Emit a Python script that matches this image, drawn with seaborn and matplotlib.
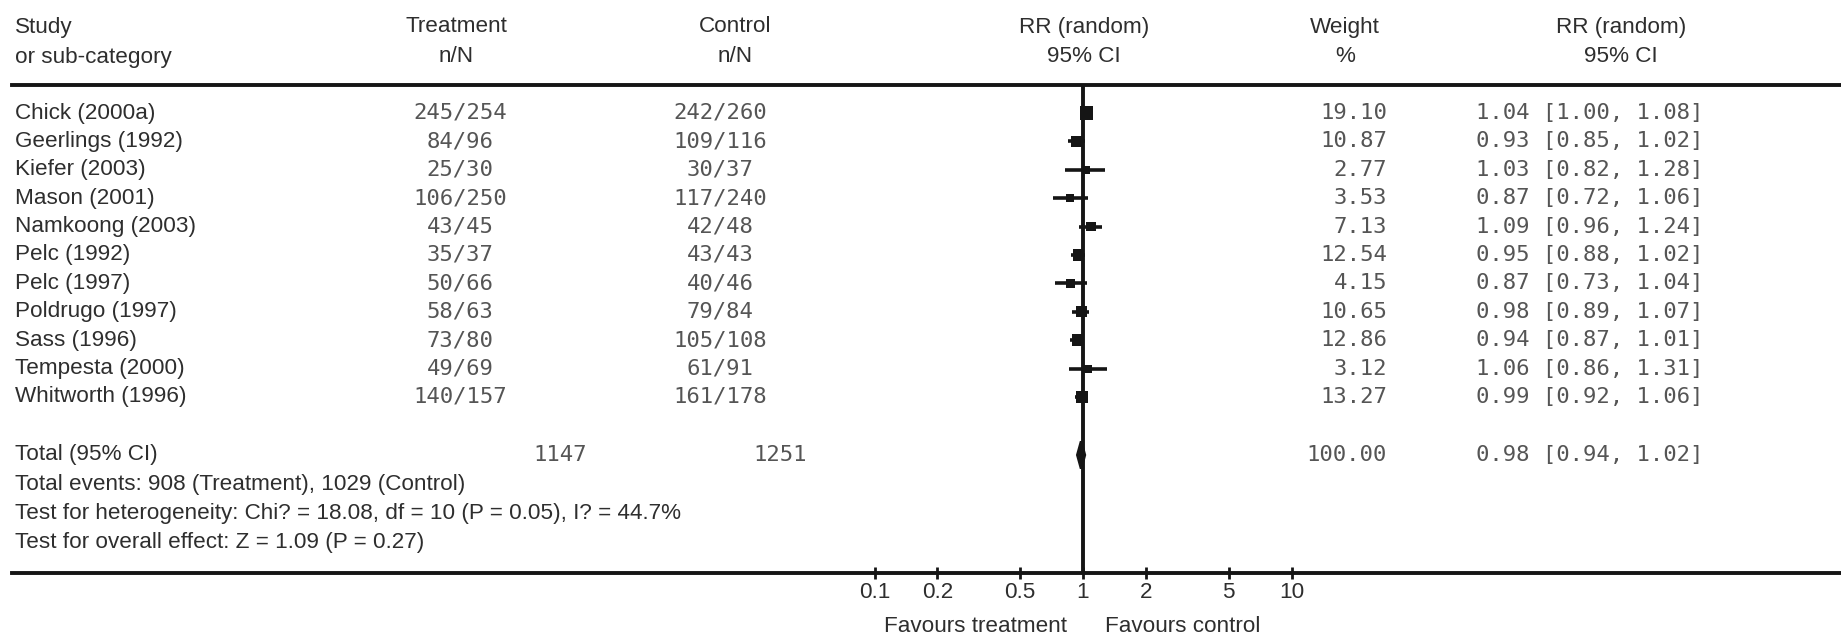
import numpy as np
import pandas as pd
import matplotlib
matplotlib.use("Agg")
import matplotlib.pyplot as plt
from matplotlib.ticker import FixedLocator, NullLocator, FixedFormatter
from matplotlib.transforms import blended_transform_factory
import seaborn as sns

# ---- data -------------------------------------------------------------
studies = ["Chick (2000a)", "Geerlings (1992)", "Kiefer (2003)", "Mason (2001)",
           "Namkoong (2003)", "Pelc (1992)", "Pelc (1997)", "Poldrugo (1997)",
           "Sass (1996)", "Tempesta (2000)", "Whitworth (1996)"]
treat_n = [245, 84, 25, 106, 43, 35, 50, 58, 73, 49, 140]
treat_N = [254, 96, 30, 250, 45, 37, 66, 63, 80, 69, 157]
ctrl_n = [242, 109, 30, 117, 42, 43, 40, 79, 105, 61, 161]
ctrl_N = [260, 116, 37, 240, 48, 43, 46, 84, 108, 91, 178]
weights = [19.10, 10.87, 2.77, 3.53, 7.13, 12.54, 4.15, 10.65, 12.86, 3.12, 13.27]
rr = [1.04, 0.93, 1.03, 0.87, 1.09, 0.95, 0.87, 0.98, 0.94, 1.06, 0.99]
ci_low = [1.00, 0.85, 0.82, 0.72, 0.96, 0.88, 0.73, 0.89, 0.87, 0.86, 0.92]
ci_high = [1.08, 1.02, 1.28, 1.06, 1.24, 1.02, 1.04, 1.07, 1.01, 1.31, 1.06]

total_label = "Total (95% CI)"
total_treat = 1147
total_ctrl = 1251
total_weight = 100.00
total_rr, total_low, total_high = 0.98, 0.94, 1.02
summary_lines = ["Total events: 908 (Treatment), 1029 (Control)",
                 "Test for heterogeneity: Chi? = 18.08, df = 10 (P = 0.05), I? = 44.7%",
                 "Test for overall effect: Z = 1.09 (P = 0.27)"]

x_ticks = [0.1, 0.2, 0.5, 1, 2, 5, 10]
x_tick_labels = ["0.1", "0.2", "0.5", "1", "2", "5", "10"]
favours_left = "Favours treatment"
favours_right = "Favours control"

df = pd.DataFrame({"study": studies, "rr": rr, "low": ci_low, "high": ci_high,
                   "weight": weights, "row": np.arange(len(studies))})

# ---- layout -----------------------------------------------------------
W, H, DPI = 1841, 639, 100
sns.set_theme(style="white")
plt.rcParams["font.family"] = ["Liberation Sans", "DejaVu Sans"]

TXT = "#2e2e2e"
MONO_C = "#555555"
LINE = "#151515"
FS = 16.2
MONO = "DejaVu Sans Mono"
MFS = 16

fig = plt.figure(figsize=(W / DPI, H / DPI), dpi=DPI)

top_px, bot_px = 85, 573
ax = fig.add_axes([12 / W, (H - bot_px) / H, (W - 12) / W, (bot_px - top_px) / H])

# log axis: 1 sits at x=1083 px, one decade spans 208.5 px
x0, dec = 1083, 208.5
ax.set_xscale("log")
ax.set_xlim(10 ** ((12 - x0) / dec), 10 ** ((W - x0) / dec))

row0, row_h = 113, 28.4
ax.set_ylim((bot_px - row0) / row_h, (top_px - row0) / row_h)

# confidence intervals
ax.hlines(df["row"], df["low"], df["high"], color=LINE, lw=2.6, zorder=3)
# study squares sized by weight
sns.scatterplot(data=df, x="rr", y="row", size="weight", sizes=(32, 95),
                marker="s", color=LINE, linewidth=0, legend=False, ax=ax, zorder=4)

# line of no effect
ax.axvline(1, color=LINE, lw=2.8, zorder=2)

# pooled estimate diamond
total_row = (455 - row0) / row_h
dh = 0.48
ax.fill([total_low, total_rr, total_high, total_rr],
        [total_row, total_row - dh, total_row, total_row + dh],
        color=LINE, lw=2.0, ec=LINE, zorder=4)

# frame: heavy rule at top and along the axis
for s in ["left", "right"]:
    ax.spines[s].set_visible(False)
for s in ["top", "bottom"]:
    ax.spines[s].set_color(LINE)
    ax.spines[s].set_linewidth(2.8)

ax.xaxis.set_major_locator(FixedLocator(x_ticks))
ax.xaxis.set_major_formatter(FixedFormatter(x_tick_labels))
ax.xaxis.set_minor_locator(NullLocator())
ax.set_yticks([])
ax.tick_params(axis="x", which="major", direction="inout", length=9, width=2.0,
               color=LINE, labelsize=FS, labelcolor=TXT, pad=2, bottom=True, top=False)
ax.set_xlabel("")
ax.set_ylabel("")

# ---- text columns -------------------------------------------------------
tr = blended_transform_factory(fig.transFigure, ax.transData)


def fx(px):
    return px / W


def fy(px):
    return 1 - px / H


# column anchors (pixels)
X_STUDY = 15
X_TREAT, X_CTRL = 460, 720
X_WEIGHT_R = 1387
X_RR_L = 1476

# header
hdr = [(X_STUDY, "left", "Study", "or sub-category"),
       (456, "center", "Treatment", "n/N"),
       (735, "center", "Control", "n/N"),
       (1084, "center", "RR (random)", "95% CI"),
       (1345, "center", "Weight", "%"),
       (1621, "center", "RR (random)", "95% CI")]
for px, ha, l1, l2 in hdr:
    fig.text(fx(px), fy(27), l1, ha=ha, va="center", fontsize=FS, color=TXT)
    fig.text(fx(px), fy(57), l2, ha=ha, va="center", fontsize=FS, color=TXT)

for i, r in df.iterrows():
    y = r["row"]
    ax.text(fx(X_STUDY), y, r["study"], transform=tr, ha="left", va="center", fontsize=FS, color=TXT)
    ax.text(fx(X_TREAT), y, f"{treat_n[i]}/{treat_N[i]}", transform=tr, ha="center", va="center",
            fontsize=MFS, color=MONO_C, family=MONO)
    ax.text(fx(X_CTRL), y, f"{ctrl_n[i]}/{ctrl_N[i]}", transform=tr, ha="center", va="center",
            fontsize=MFS, color=MONO_C, family=MONO)
    ax.text(fx(X_WEIGHT_R), y, f"{r['weight']:.2f}", transform=tr, ha="right", va="center",
            fontsize=MFS, color=MONO_C, family=MONO)
    ax.text(fx(X_RR_L), y, f"{r['rr']:.2f} [{r['low']:.2f}, {r['high']:.2f}]", transform=tr,
            ha="left", va="center", fontsize=MFS, color=MONO_C, family=MONO)

# pooled row
ax.text(fx(X_STUDY), total_row, total_label, transform=tr, ha="left", va="center", fontsize=FS, color=TXT)
ax.text(fx(X_TREAT + 100), total_row, f"{total_treat}", transform=tr, ha="center", va="center",
        fontsize=MFS, color=MONO_C, family=MONO)
ax.text(fx(X_CTRL + 60), total_row, f"{total_ctrl}", transform=tr, ha="center", va="center",
        fontsize=MFS, color=MONO_C, family=MONO)
ax.text(fx(X_WEIGHT_R), total_row, f"{total_weight:.2f}", transform=tr, ha="right", va="center",
        fontsize=MFS, color=MONO_C, family=MONO)
ax.text(fx(X_RR_L), total_row, f"{total_rr:.2f} [{total_low:.2f}, {total_high:.2f}]", transform=tr,
        ha="left", va="center", fontsize=MFS, color=MONO_C, family=MONO)

for k, line in enumerate(summary_lines):
    ypx = 485 + 28.7 * k
    ax.text(fx(X_STUDY), (ypx - row0) / row_h, line, transform=tr, ha="left", va="center",
            fontsize=FS, color=TXT)

fig.text(fx(1067), fy(627), favours_left, ha="right", va="center", fontsize=FS, color=TXT)
fig.text(fx(1105), fy(627), favours_right, ha="left", va="center", fontsize=FS, color=TXT)

fig.savefig("out.png", dpi=DPI, facecolor="white")
